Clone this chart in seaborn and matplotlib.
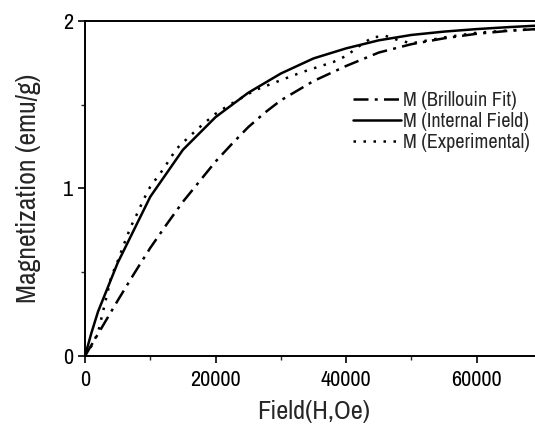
import matplotlib
matplotlib.use("Agg")
import matplotlib.pyplot as plt
import seaborn as sns
from matplotlib.ticker import MultipleLocator

# field values (Oe) and magnetization (emu/g)
field_fit = [0, 2500, 5000, 7500, 10000, 12500, 15000, 17500, 20000, 22500, 25000,
             27500, 30000, 35000, 40000, 45000, 50000, 55000, 60000, 65000, 70000]
m_fit = [0, 0.165, 0.33, 0.49, 0.645, 0.785, 0.92, 1.04, 1.16, 1.265, 1.365,
         1.45, 1.525, 1.64, 1.73, 1.81, 1.86, 1.895, 1.922, 1.94, 1.952]

field_int = [0, 1000, 2000, 5000, 10000, 15000, 20000, 25000, 30000, 35000,
             40000, 45000, 50000, 55000, 60000, 65000, 70000]
m_int = [0, 0.14, 0.265, 0.555, 0.95, 1.23, 1.425, 1.57, 1.685, 1.775,
         1.835, 1.883, 1.915, 1.935, 1.95, 1.962, 1.972]

field_exp = [0, 1000, 2000, 4000, 5000, 6000, 7000, 8000, 9000, 10000, 12000,
             14000, 16000, 18000, 20000, 22000, 24000, 26000, 28000, 30000,
             32000, 34000, 36000, 38000, 40000, 42000, 44000, 46000, 48000,
             50000, 55000, 60000, 65000, 70000]
m_exp = [0, 0.06, 0.14, 0.47, 0.565, 0.67, 0.77, 0.85, 0.935, 1.01, 1.115,
         1.235, 1.31, 1.38, 1.445, 1.495, 1.54, 1.585, 1.615, 1.645,
         1.675, 1.703, 1.728, 1.753, 1.79, 1.848, 1.9, 1.91, 1.884,
         1.865, 1.9, 1.928, 1.942, 1.952]

sns.set_style("ticks")
plt.rcParams['font.family'] = ['Liberation Sans Narrow', 'Arial Narrow', 'Archivo Narrow',
                               'PT Sans Narrow', 'Roboto Condensed', 'Fira Sans Condensed',
                               'DejaVu Sans']

fig = plt.figure(figsize=(5.35, 4.28), dpi=100)
ax = fig.add_axes([85 / 535, 72 / 428, 457 / 535, 335.3 / 428])

sns.lineplot(x=field_fit, y=m_fit, ax=ax, color='black', lw=1.8,
             linestyle=(0, (6, 2.5, 1.2, 2.5)), label='M (Brillouin Fit)')
sns.lineplot(x=field_int, y=m_int, ax=ax, color='black', lw=1.8,
             linestyle='-', label='M (Internal Field)')
sns.lineplot(x=field_exp, y=m_exp, ax=ax, color='black', lw=1.8,
             linestyle=(0, (1, 3)), label='M (Experimental)')

ax.set_xlim(0, 70000)
ax.set_ylim(0, 2)
ax.xaxis.set_major_locator(MultipleLocator(20000))
ax.xaxis.set_minor_locator(MultipleLocator(10000))
ax.yaxis.set_major_locator(MultipleLocator(1))
ax.yaxis.set_minor_locator(MultipleLocator(0.5))
ax.tick_params(which='major', direction='out', length=5, width=1.2, labelsize=16, colors='black')
ax.tick_params(axis='x', which='major', pad=5)
ax.tick_params(which='minor', direction='out', length=3, width=1.0)
for s in ax.spines.values():
    s.set_linewidth(1.4)
    s.set_color('black')

ax.set_xlabel('Field(H,Oe)', fontsize=19, labelpad=7)
ax.set_ylabel('Magnetization (emu/g)', fontsize=20, labelpad=16)

ax.legend(loc='upper left', bbox_to_anchor=(353 / 535, 1 - 91 / 428),
          bbox_transform=fig.transFigure, frameon=False, fontsize=14.5,
          handlelength=2.4, handletextpad=0.1, labelspacing=0.1,
          borderpad=0, borderaxespad=0)

fig.savefig('out.png', dpi=100)
